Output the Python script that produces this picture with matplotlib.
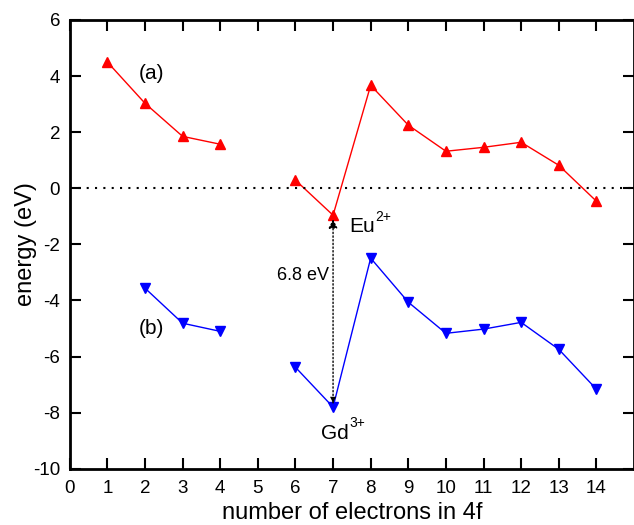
import matplotlib
matplotlib.use("Agg")
import matplotlib.pyplot as plt
from matplotlib.transforms import offset_copy

plt.rcParams['font.family'] = ['Liberation Sans', 'DejaVu Sans']
plt.rcParams['axes.unicode_minus'] = False

x_a = [1, 2, 3, 4]
y_a = [4.5, 3.03, 1.85, 1.57]
x_a2 = [6, 7, 8, 9, 10, 11, 12, 13, 14]
y_a2 = [0.29, -0.96, 3.67, 2.25, 1.32, 1.46, 1.64, 0.82, -0.46]

x_b = [2, 3, 4]
y_b = [-3.56, -4.81, -5.1]
x_b2 = [6, 7, 8, 9, 10, 11, 12, 13, 14]
y_b2 = [-6.38, -7.8, -2.49, -4.06, -5.17, -5.02, -4.78, -5.74, -7.16]

xticks = list(range(0, 15))
yticks = [-10, -8, -6, -4, -2, 0, 2, 4, 6]

fig = plt.figure(figsize=(6.34, 5.25), dpi=100)
ax = fig.add_axes([0.110, 0.107, 0.890, 0.855])

for xs, ys in [(x_a, y_a), (x_a2, y_a2)]:
    ax.plot(xs, ys, color='red', lw=1.0, marker='^', ms=7.5, mec='red', mfc='red')
for xs, ys in [(x_b, y_b), (x_b2, y_b2)]:
    ax.plot(xs, ys, color='blue', lw=1.0, marker='v', ms=7.5, mec='blue', mfc='blue')

ax.axhline(0, color='black', lw=1.5, ls=(0, (1, 3)))

# double arrow between Eu2+ and Gd3+
ax.annotate('', xy=(7, -1.1), xytext=(7, -7.65),
            arrowprops=dict(arrowstyle='-|>', color='black', lw=1.0, ls=':',
                            mutation_scale=13, shrinkA=0, shrinkB=0))
ax.annotate('', xy=(7, -7.65), xytext=(7, -1.1),
            arrowprops=dict(arrowstyle='-|>', color='black', lw=0,
                            mutation_scale=11, shrinkA=0, shrinkB=0))

ax.text(6.9, -3.1, '6.8 eV', fontsize=13, ha='right', va='center')

def ion(x, y, base, sup):
    t = ax.text(x, y, base, fontsize=15, ha='left', va='baseline')
    fig.canvas.draw()
    bb = t.get_window_extent()
    tr = offset_copy(ax.transData, fig=fig, x=bb.width * 72 / fig.dpi + 0.5, y=8, units='points')
    ax.text(x, y, sup, fontsize=10, ha='left', va='baseline', transform=tr)

ion(7.42, -1.55, 'Eu', '2+')
ion(6.68, -8.92, 'Gd', '3+')

ax.text(2.18, 4.1, '(a)', fontsize=15, ha='center', va='center')
ax.text(2.18, -4.99, '(b)', fontsize=15, ha='center', va='center')

ax.set_xlim(0, 15)
ax.set_ylim(-10, 6)
ax.set_xticks(xticks)
ax.set_yticks(yticks)
ax.tick_params(direction='in', top=True, right=True, length=8, width=1.5,
               labelsize=13.5)
ax.tick_params(axis='x', pad=8)
ax.tick_params(axis='y', pad=7)
for s in ax.spines.values():
    s.set_linewidth(2)

ax.set_xlabel('number of electrons in 4f', fontsize=17, labelpad=4)
ax.set_ylabel('energy (eV)', fontsize=17, labelpad=-3)

fig.savefig('out.png', dpi=100)
